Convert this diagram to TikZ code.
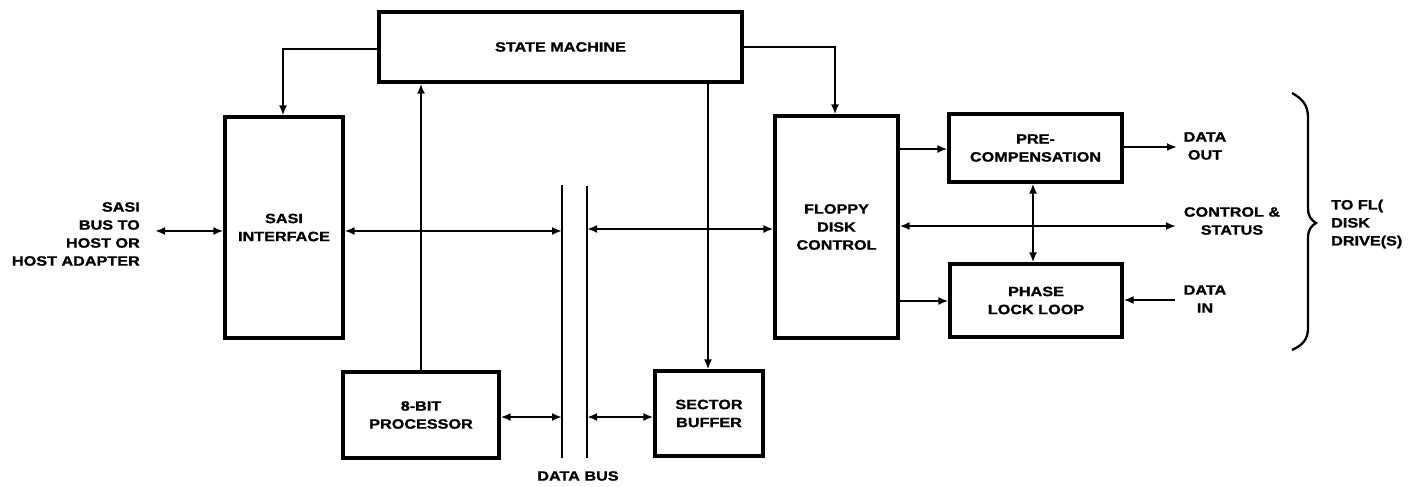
\documentclass[tikz,border=0pt]{standalone}
\usepackage{fontspec}
\setmainfont{Liberation Sans}[FakeStretch=1.2, BoldFeatures={FakeBold=1.2}]
\usetikzlibrary{arrows.meta}
\newcommand\dglbl{\bfseries\fontsize{13.5}{18}\selectfont}
\begin{document}
\begin{tikzpicture}[x=1pt,y=-1pt,
  box/.style={draw, line width=3.2pt, align=center, inner sep=0pt, font=\dglbl},
  lbl/.style={align=center, inner sep=0pt, font=\dglbl},
  conn/.style={line width=2.5pt, -{Latex[length=10pt,width=8pt]}},
  dconn/.style={line width=2.5pt, {Latex[length=10pt,width=8pt]}-{Latex[length=10pt,width=8pt]}},
  bus/.style={line width=2.3pt},
  brace/.style={line width=2.3pt}]
\useasboundingbox (0,0) rectangle (1424,487);

% boxes
\node[box, minimum width=363pt, minimum height=70pt] (state) at (560.5,47) {STATE MACHINE};
\node[box, minimum width=118pt, minimum height=221pt] (sasi) at (284,227.5) {SASI\\INTERFACE};
\node[box, minimum width=156pt, minimum height=86pt] (proc) at (421,415) {8-BIT\\PROCESSOR};
\node[box, minimum width=108pt, minimum height=85pt] (sector) at (709,413.5) {SECTOR\\BUFFER};
\node[box, minimum width=123pt, minimum height=222pt] (floppy) at (836.5,227) {FLOPPY\\DISK\\CONTROL};
\node[box, minimum width=173pt, minimum height=68pt] (precomp) at (1035.5,148) {PRE-\\COMPENSATION};
\node[box, minimum width=172pt, minimum height=73pt] (pll) at (1036,300.5) {PHASE\\LOCK LOOP};

% labels
\node[lbl, align=right, anchor=east] (hostlbl) at (140,234) {SASI\\BUS TO\\HOST OR\\HOST ADAPTER};
\node[lbl] (buslbl) at (578,476) {DATA BUS};
\node[lbl] (outlbl) at (1205,146) {DATA\\OUT};
\node[lbl] (ctllbl) at (1232,221) {CONTROL \&\\STATUS};
\node[lbl] (inlbl) at (1205,299) {DATA\\IN};
\node[lbl, align=left, anchor=west] (drvlbl) at (1331,224) {TO FL(\\DISK\\DRIVE(S)};

% data bus
\coordinate (busLt) at (562,185);
\coordinate (busLb) at (562,458);
\coordinate (busRt) at (587,186);
\coordinate (busRb) at (587,458);
\draw[bus] (busLt) -- (busLb);
\draw[bus] (busRt) -- (busRb);

% free ends
\coordinate (hostend) at (155,231);
\coordinate (outend) at (1177,147);
\coordinate (ctlend) at (1176,226);
\coordinate (inend) at (1175,300);
\coordinate (smL) at (283,49);
\coordinate (smR) at (835,47);

% connectors
\draw[dconn] (hostend) -- (hostend -| sasi.west);
\draw[dconn] (sasi.east |- hostend) -- (hostend -| busLt);
\draw[dconn] (busRt |- 0,229) -- (floppy.west |- 0,229);
\draw[dconn] (proc.east |- 0,417) -- (busLt |- 0,417);
\draw[dconn] (busRt |- 0,417) -- (sector.west |- 0,417);
\draw[conn] (proc.north) -- (proc.north |- state.south);
\draw[conn] (state.south -| 708,0) -- (sector.north -| 708,0);
\draw[conn] (state.west |- smL) -- (smL) -- (smL |- sasi.north);
\draw[conn] (state.east |- smR) -- (smR) -- (smR |- floppy.north);
\draw[conn] (floppy.east |- 0,149) -- (precomp.west |- 0,149);
\draw[conn] (floppy.east |- 0,301) -- (pll.west |- 0,301);
\draw[dconn] (floppy.east |- ctlend) -- (ctlend);
\draw[dconn] (precomp.south -| 1033,0) -- (pll.north -| 1033,0);
\draw[conn] (precomp.east |- outend) -- (outend);
\draw[conn] (inend) -- (inend -| pll.east);

% brace
\draw[brace] (1292,93) .. controls (1303,99) and (1308,106) .. (1308,117)
  -- (1308,208) .. controls (1308,216) and (1311,220) .. (1316,223)
  .. controls (1311,226) and (1308,230) .. (1308,238)
  -- (1308,328) .. controls (1308,339) and (1303,345) .. (1292,350);
\end{tikzpicture}
\end{document}
